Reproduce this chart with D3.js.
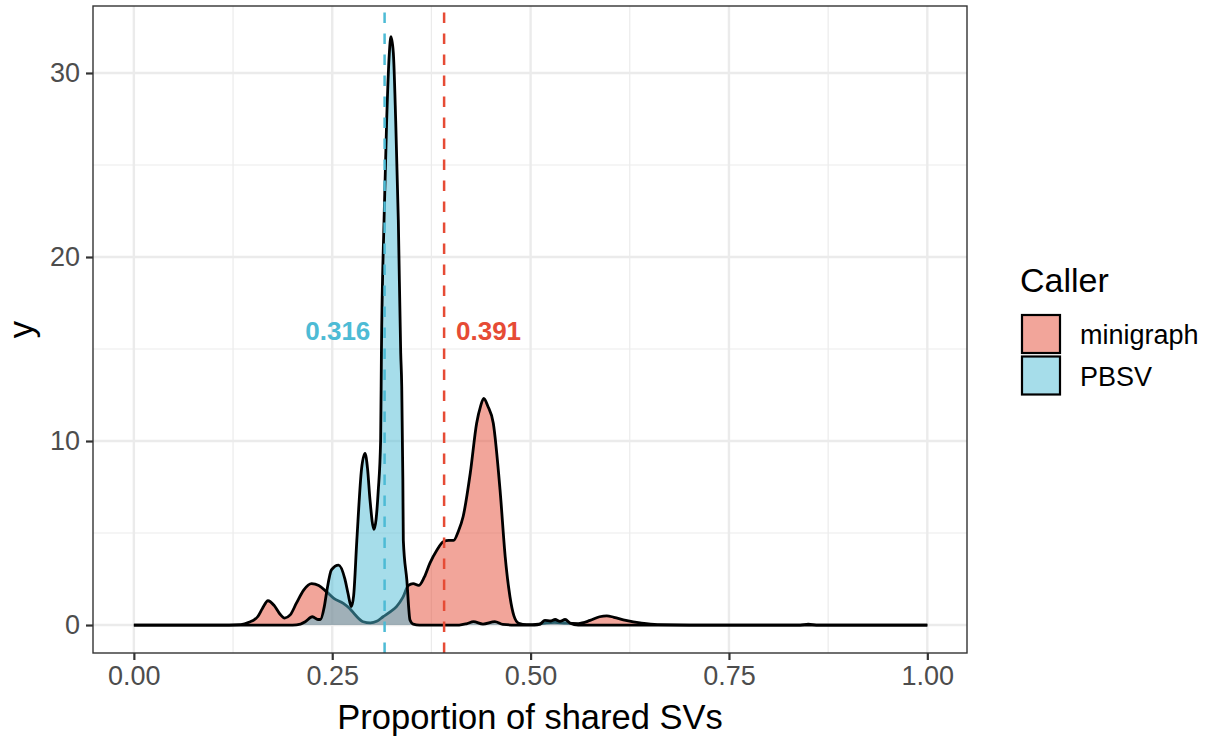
<!DOCTYPE html>
<html>
<head>
<meta charset="utf-8">
<script src="https://cdn.jsdelivr.net/npm/d3@7"></script>
<style>
  html, body { margin: 0; padding: 0; background: #fff; }
  svg { display: block; font-family: "Liberation Sans", Arial, Helvetica, sans-serif; }
</style>
</head>
<body>
<svg id="chart" width="1208" height="736"></svg>
<script>
// Density estimates of the proportion of shared SVs, per caller
const callers = ["minigraph", "PBSV"];
const callerColors = ["#E64B35", "#4DBBD5"];

const minigraphX = [0.00, 0.12, 0.135, 0.145, 0.156, 0.162, 0.169, 0.177, 0.184, 0.190, 0.197, 0.205,
  0.214, 0.224, 0.233, 0.243, 0.252, 0.264, 0.272, 0.280, 0.289, 0.298, 0.306, 0.314, 0.323,
  0.331, 0.339, 0.346, 0.352, 0.359, 0.366, 0.373, 0.382, 0.390, 0.397, 0.403, 0.409, 0.415,
  0.424, 0.432, 0.437, 0.441, 0.446, 0.453, 0.4615, 0.468, 0.474, 0.479, 0.485, 0.495, 0.510,
  0.520, 0.530, 0.545, 0.560, 0.575, 0.587, 0.596, 0.605, 0.620, 0.640, 0.660, 0.700, 0.840,
  0.850, 0.860, 1.00];
const minigraphY = [0, 0, 0.02, 0.15, 0.45, 0.9, 1.32, 1.05, 0.6, 0.38, 0.55, 1.2,
  1.9, 2.25, 2.15, 1.8, 1.45, 1.18, 0.9, 0.5, 0.18, 0.12, 0.2, 0.45, 0.72,
  1.0, 1.5, 2.15, 2.25, 2.15, 2.6, 3.35, 4.08, 4.53, 4.6, 4.6, 5.1, 5.9,
  8.26, 10.97, 11.9, 12.32, 11.9, 10.96, 7.34, 3.71, 1.54, 0.5, 0.1, 0.02, 0.05,
  0.12, 0.15, 0.1, 0.08, 0.25, 0.45, 0.5, 0.42, 0.25, 0.1, 0.02, 0, 0,
  0.05, 0, 0];

const pbsvX = [0.00, 0.20, 0.210, 0.216, 0.225, 0.232, 0.235, 0.240, 0.243, 0.249, 0.258, 0.266,
  0.270, 0.274, 0.277, 0.281, 0.287, 0.2913, 0.2945, 0.2976, 0.3026, 0.308, 0.311, 0.312,
  0.3153, 0.3186, 0.322, 0.324, 0.327, 0.330, 0.3333, 0.3363, 0.3376, 0.339, 0.3396, 0.344,
  0.348, 0.352, 0.360, 0.410, 0.420, 0.428, 0.440, 0.455, 0.465, 0.480, 0.505, 0.512, 0.518,
  0.525, 0.531, 0.537, 0.5435, 0.550, 0.560, 1.00];
const pbsvY = [0, 0, 0.05, 0.18, 0.45, 0.3, 0.3, 1.0, 1.8, 3.0, 3.26, 2.5,
  1.7, 1.0, 1.6, 4.6, 8.5, 9.33, 8.5, 6.8, 5.2, 7.3, 10.05, 14.8,
  22.0, 27.4, 31.1, 31.97, 31.1, 27.4, 22.0, 14.8, 12.95, 7.9, 4.6, 2.45,
  0.27, 0.05, 0, 0, 0.08, 0.18, 0.05, 0.18, 0.03, 0, 0, 0.05, 0.25,
  0.22, 0.3, 0.2, 0.3, 0.1, 0, 0];

// Mean proportion per caller, drawn as dashed reference lines
const meanValues = [0.391, 0.316];
const meanLabels = ["0.391", "0.316"];
const meanLabelY = 16;

const xTicks = [0, 0.25, 0.5, 0.75, 1];
const xTickLabels = ["0.00", "0.25", "0.50", "0.75", "1.00"];
const xMinor = [0.125, 0.375, 0.625, 0.875];
const yTicks = [0, 10, 20, 30];
const yMinor = [5, 15, 25];

const svg = d3.select("#chart");
const panel = { left: 93, right: 967, top: 6, bottom: 653 };

const x = d3.scaleLinear().domain([-0.0515, 1.05]).range([panel.left, panel.right]);
const y = d3.scaleLinear().domain([-1.52, 33.64]).range([panel.bottom, panel.top]);

// Panel background and grid
svg.append("rect").attr("x", panel.left).attr("y", panel.top)
  .attr("width", panel.right - panel.left).attr("height", panel.bottom - panel.top)
  .attr("fill", "#fff");

const grid = svg.append("g");
grid.selectAll(".xminor").data(xMinor).join("line")
  .attr("x1", d => x(d)).attr("x2", d => x(d))
  .attr("y1", panel.top).attr("y2", panel.bottom)
  .attr("stroke", "#EBEBEB").attr("stroke-width", 1.2);
grid.selectAll(".yminor").data(yMinor).join("line")
  .attr("y1", d => y(d)).attr("y2", d => y(d))
  .attr("x1", panel.left).attr("x2", panel.right)
  .attr("stroke", "#EBEBEB").attr("stroke-width", 1.2);
grid.selectAll(".xmajor").data(xTicks).join("line")
  .attr("x1", d => x(d)).attr("x2", d => x(d))
  .attr("y1", panel.top).attr("y2", panel.bottom)
  .attr("stroke", "#EBEBEB").attr("stroke-width", 2.4);
grid.selectAll(".ymajor").data(yTicks).join("line")
  .attr("y1", d => y(d)).attr("y2", d => y(d))
  .attr("x1", panel.left).attr("x2", panel.right)
  .attr("stroke", "#EBEBEB").attr("stroke-width", 2.4);

// Density areas
const series = [
  { name: callers[0], color: callerColors[0], pts: minigraphX.map((v, i) => [v, minigraphY[i]]) },
  { name: callers[1], color: callerColors[1], pts: pbsvX.map((v, i) => [v, pbsvY[i]]) }
];

const area = d3.area().x(d => x(d[0])).y0(y(0)).y1(d => y(d[1])).curve(d3.curveMonotoneX);
const line = d3.line().x(d => x(d[0])).y(d => y(d[1])).curve(d3.curveMonotoneX);

const dens = svg.append("g");
series.forEach(s => {
  dens.append("path").datum(s.pts).attr("d", area)
    .attr("fill", s.color).attr("fill-opacity", 0.5);
  dens.append("path").datum(s.pts).attr("d", line)
    .attr("fill", "none").attr("stroke", "#000").attr("stroke-width", 2.8)
    .attr("stroke-linejoin", "round");
});

// Dashed mean lines and their labels
const means = svg.append("g");
meanValues.forEach((m, i) => {
  means.append("line")
    .attr("x1", x(m)).attr("x2", x(m))
    .attr("y1", panel.bottom).attr("y2", panel.top)
    .attr("stroke", callerColors[i]).attr("stroke-width", 2.5)
    .attr("stroke-dasharray", "10.5,10.5");
});
means.append("text")
  .attr("x", x(meanValues[0] + 0.015)).attr("y", y(meanLabelY))
  .attr("dy", "0.36em").attr("text-anchor", "start")
  .attr("font-size", 26).attr("font-weight", "bold")
  .attr("fill", callerColors[0]).text(meanLabels[0]);
means.append("text")
  .attr("x", x(meanValues[1] - 0.018)).attr("y", y(meanLabelY))
  .attr("dy", "0.36em").attr("text-anchor", "end")
  .attr("font-size", 26).attr("font-weight", "bold")
  .attr("fill", callerColors[1]).text(meanLabels[1]);

// Panel border
svg.append("rect").attr("x", panel.left).attr("y", panel.top)
  .attr("width", panel.right - panel.left).attr("height", panel.bottom - panel.top)
  .attr("fill", "none").attr("stroke", "#333333").attr("stroke-width", 1.4);

// Axes
const xAxis = d3.axisBottom(x).tickValues(xTicks)
  .tickFormat((d, i) => xTickLabels[i]).tickSize(7).tickPadding(6);
const gx = svg.append("g").attr("transform", `translate(0,${panel.bottom})`).call(xAxis);
gx.select(".domain").remove();
gx.selectAll(".tick line").attr("stroke", "#333333").attr("stroke-width", 2.2);
gx.selectAll(".tick text").attr("fill", "#4D4D4D").attr("font-size", 27)
  .attr("font-family", "'Liberation Sans', Arial, sans-serif");

const yAxis = d3.axisLeft(y).tickValues(yTicks).tickSize(7).tickPadding(6);
const gy = svg.append("g").attr("transform", `translate(${panel.left},0)`).call(yAxis);
gy.select(".domain").remove();
gy.selectAll(".tick line").attr("stroke", "#333333").attr("stroke-width", 2.2);
gy.selectAll(".tick text").attr("fill", "#4D4D4D").attr("font-size", 27)
  .attr("font-family", "'Liberation Sans', Arial, sans-serif");

// Axis titles
svg.append("text").attr("x", (panel.left + panel.right) / 2).attr("y", 729)
  .attr("text-anchor", "middle").attr("font-size", 34.5).attr("fill", "#000")
  .text("Proportion of shared SVs");
svg.append("text")
  .attr("transform", `translate(33,${(panel.top + panel.bottom) / 2}) rotate(-90)`)
  .attr("text-anchor", "middle").attr("font-size", 34.5).attr("fill", "#000")
  .text("y");

// Legend
const legend = svg.append("g").attr("transform", "translate(1021,0)");
legend.append("text").attr("x", -1).attr("y", 292).attr("font-size", 34)
  .attr("fill", "#000").text("Caller");
callers.forEach((c, i) => {
  const top = 315 + i * 41.5;
  legend.append("rect").attr("x", 1).attr("y", top)
    .attr("width", 38).attr("height", 38)
    .attr("fill", callerColors[i]).attr("fill-opacity", 0.5)
    .attr("stroke", "#000").attr("stroke-width", 2.2);
  legend.append("text").attr("x", 59).attr("y", top + 29)
    .attr("font-size", 27).attr("fill", "#000").text(c);
});
</script>
</body>
</html>
